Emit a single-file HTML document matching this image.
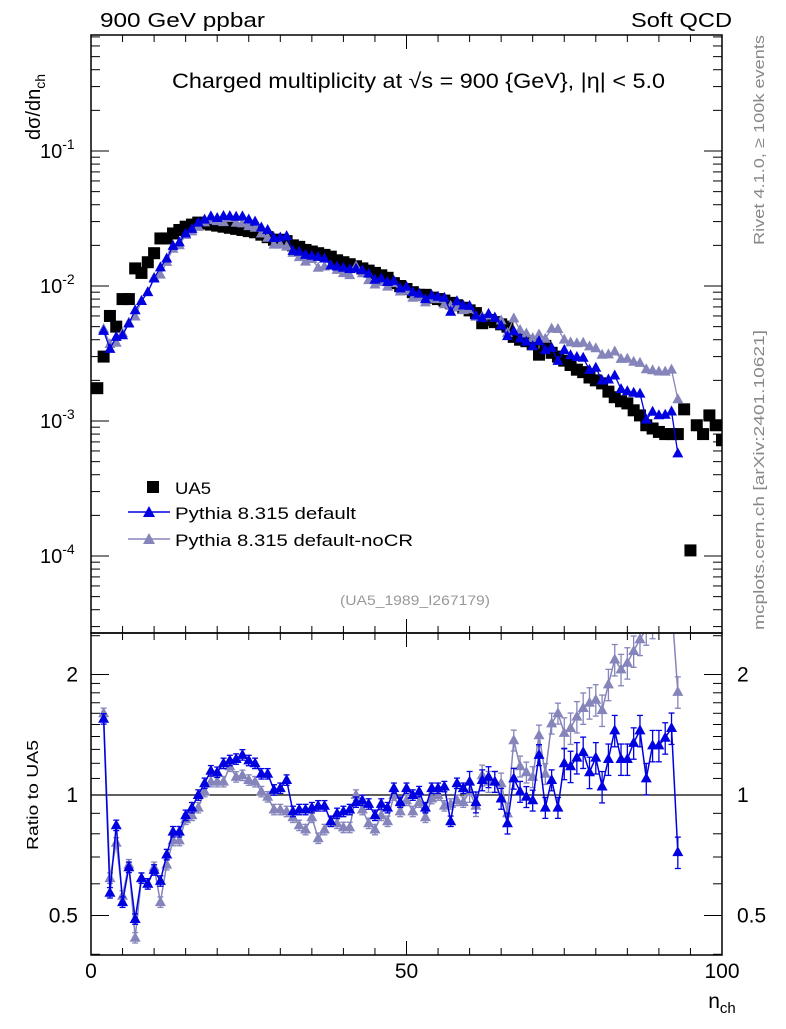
<!DOCTYPE html>
<html><head><meta charset="utf-8">
<style>
body{margin:0;background:#fff;}
svg{font-family:"Liberation Sans","DejaVu Sans",sans-serif;}
</style></head>
<body>
<svg id="chart" width="786" height="1024" viewBox="0 0 786 1024" xmlns="http://www.w3.org/2000/svg">
<defs>
<clipPath id="clipMain"><rect x="91" y="35" width="631" height="598"/></clipPath>
<clipPath id="clipRatio"><rect x="91" y="634" width="631" height="321"/></clipPath>
</defs>
<text x="100" y="27" font-size="20" textLength="165" lengthAdjust="spacingAndGlyphs">900 GeV ppbar</text>
<text x="631" y="27" font-size="20" textLength="101" lengthAdjust="spacingAndGlyphs">Soft QCD</text>
<text x="172" y="88" font-size="21" textLength="493" lengthAdjust="spacingAndGlyphs">Charged multiplicity at √s = 900 {GeV}, |η| &lt; 5.0</text>
<text transform="translate(40,140) rotate(-90)" font-size="20">dσ/dn<tspan font-size="14" dy="5">ch</tspan></text>
<text transform="translate(764,245) rotate(-90)" font-size="15" fill="#888" textLength="210" lengthAdjust="spacingAndGlyphs">Rivet 4.1.0, ≥ 100k events</text>
<text transform="translate(764,630) rotate(-90)" font-size="15" fill="#888" textLength="300" lengthAdjust="spacingAndGlyphs">mcplots.cern.ch [arXiv:2401.10621]</text>
<text x="340" y="605" font-size="14" fill="#999" textLength="150" lengthAdjust="spacingAndGlyphs">(UA5_1989_I267179)</text>
<text transform="translate(38,850) rotate(-90)" font-size="16" textLength="110" lengthAdjust="spacingAndGlyphs">Ratio to UA5</text>
<text x="722" y="1008" font-size="21" text-anchor="middle">n<tspan font-size="15" dy="5">ch</tspan></text>
<g id="axes"></g>
<g id="marks"></g>
<g id="legend">
  <rect x="147" y="481" width="12" height="12" fill="#000"/>
  <text x="175" y="494" font-size="17" textLength="36" lengthAdjust="spacingAndGlyphs">UA5</text>
  <line x1="128" y1="512" x2="170" y2="512" stroke="#0000e0" stroke-width="1.5"/>
  <polygon points="149,506 155,517 143,517" fill="#0000e0"/>
  <text x="175" y="519" font-size="17" textLength="181" lengthAdjust="spacingAndGlyphs">Pythia 8.315 default</text>
  <line x1="128" y1="539" x2="170" y2="539" stroke="#8585bb" stroke-width="1.5"/>
  <polygon points="149,533 155,544 143,544" fill="#8585bb"/>
  <text x="175" y="546" font-size="17" textLength="238" lengthAdjust="spacingAndGlyphs">Pythia 8.315 default-noCR</text>
</g>
</svg>
<script>
const ua5N = [1,2,3,4,5,6,7,8,9,10,11,12,13,14,15,16,17,18,19,20,21,22,23,24,25,26,27,28,29,30,31,32,33,34,35,36,37,38,39,40,41,42,43,44,45,46,47,48,49,50,51,52,53,54,55,56,57,58,59,60,61,62,63,64,65,66,67,68,69,70,71,72,73,74,75,76,77,78,79,80,81,82,83,84,85,86,87,88,89,90,91,92,93,94,95,96,97,98,99,100,101];
const ua5Val = [1.75e-3,3.0e-3,6.0e-3,5.0e-3,8.0e-3,8.0e-3,1.35e-2,1.25e-2,1.5e-2,1.75e-2,2.25e-2,2.25e-2,2.45e-2,2.6e-2,2.75e-2,2.85e-2,2.95e-2,2.9e-2,2.85e-2,2.8e-2,2.75e-2,2.7e-2,2.65e-2,2.6e-2,2.55e-2,2.5e-2,2.4e-2,2.3e-2,2.2e-2,2.2e-2,2.15e-2,2.0e-2,1.95e-2,1.85e-2,1.8e-2,1.75e-2,1.7e-2,1.65e-2,1.55e-2,1.5e-2,1.45e-2,1.4e-2,1.35e-2,1.3e-2,1.25e-2,1.2e-2,1.15e-2,1.05e-2,1.0e-2,9.5e-3,9.0e-3,8.6e-3,8.6e-3,8.2e-3,8.0e-3,7.8e-3,7.5e-3,7.2e-3,6.9e-3,6.6e-3,6.3e-3,5.3e-3,5.6e-3,5.4e-3,5.2e-3,5.0e-3,4.2e-3,4.0e-3,3.9e-3,3.7e-3,3.1e-3,3.6e-3,3.2e-3,3.0e-3,2.8e-3,2.6e-3,2.4e-3,2.3e-3,2.1e-3,2.0e-3,1.9e-3,1.65e-3,1.5e-3,1.4e-3,1.35e-3,1.2e-3,1.1e-3,9.3e-4,8.8e-4,8.3e-4,8.0e-4,8.0e-4,8.0e-4,1.22e-3,1.1e-4,9.3e-4,8.0e-4,1.1e-3,9.3e-4,7.2e-4,8.0e-4];
const simN = [2,3,4,5,6,7,8,9,10,11,12,13,14,15,16,17,18,19,20,21,22,23,24,25,26,27,28,29,30,31,32,33,34,35,36,37,38,39,40,41,42,43,44,45,46,47,48,49,50,51,52,53,54,55,56,57,58,59,60,61,62,63,64,65,66,67,68,69,70,71,72,73,74,75,76,77,78,79,80,81,82,83,84,85,86,87,88,89,90,91,92,93];
const ratioDefault = [1.55,0.57,0.84,0.54,0.66,0.49,0.62,0.60,0.65,0.61,0.71,0.81,0.81,0.89,0.93,1.0,1.07,1.15,1.14,1.2,1.22,1.23,1.26,1.22,1.2,1.13,1.13,1.03,1.04,1.09,0.91,0.92,0.92,0.93,0.94,0.94,0.86,0.9,0.91,0.92,0.96,0.97,0.95,0.89,0.95,0.93,1.04,0.96,1.04,1.0,1.02,0.93,1.04,1.04,1.05,0.86,1.07,1.04,1.08,0.96,1.09,1.11,1.08,0.98,0.85,1.1,1.02,0.99,0.97,1.26,0.93,1.09,0.93,1.2,1.18,1.24,1.28,1.14,1.24,1.05,1.23,1.45,1.23,1.23,1.35,1.45,1.1,1.33,1.33,1.39,1.47,0.72];
const ratioNoCR = [1.6,0.62,0.76,0.56,0.67,0.44,0.62,0.60,0.66,0.54,0.67,0.77,0.77,0.87,0.89,0.93,1.02,1.08,1.08,1.08,1.18,1.11,1.12,1.09,1.08,1.02,0.99,0.92,0.92,0.91,0.88,0.84,0.82,0.88,0.78,0.82,0.86,0.85,0.83,0.83,1.0,0.92,0.85,0.82,0.89,0.86,1.0,0.91,0.97,0.91,0.96,0.88,0.98,1.0,0.94,0.95,0.97,0.96,1.02,0.94,1.12,1.08,1.08,1.07,0.9,1.37,1.18,1.14,1.11,1.41,1.13,1.51,1.6,1.43,1.47,1.57,1.65,1.7,1.73,1.63,1.89,2.18,2.06,2.14,2.29,2.45,2.6,2.7,2.8,2.9,3.0,1.81];
const xTickLabels = ["0","50","100"];
const mainTickLabels = ["-1","-2","-3","-4"];
const ratioTickLabels = ["2","1","0.5"];

const SVGNS="http://www.w3.org/2000/svg";
const L=91,R=722,MT=35,MB=633,RT=634,RB=955;
const xs=n=>L+n*6.31;
const ym=v=>286-135*Math.log10(v/0.01);
const yr=r=>795-120.5*Math.log2(r);
function mk(tag,attrs,parent){const e=document.createElementNS(SVGNS,tag);for(const k in attrs)e.setAttribute(k,attrs[k]);parent.appendChild(e);return e;}
const axes=document.getElementById('axes'), marks=document.getElementById('marks');

let f1=mk('rect',{x:L,y:MT,width:R-L,height:MB-MT,fill:'none',stroke:'#000','stroke-width':1.5},axes);


let f2=mk('rect',{x:L,y:MB,width:R-L,height:RB-MB,fill:'none',stroke:'#000','stroke-width':1.5},axes);


let one=mk('line',{x1:L,x2:R,y1:yr(1),y2:yr(1),stroke:'#000','stroke-width':1.2},axes);



for(let n=0;n<=100;n+=5){
  const len=(n%50===0)?14:7;
  for(const [y0,d] of [[MT,1],[MB,-1],[MB,1],[RB,-1]]){
    mk('line',{x1:xs(n),x2:xs(n),y1:y0,y2:y0+d*len,stroke:'#000','stroke-width':1},axes);
  }
}
xTickLabels.forEach((t,i)=>{
  const tx=mk('text',{x:xs(i*50),y:978,'font-size':21,'text-anchor':'middle'},axes);
  tx.textContent=t;
  
  
});
for(let e=-5;e<=-1;e++){
  for(let m=1;m<10;m++){
    const v=m*Math.pow(10,e);const y=ym(v);
    if(y<MT||y>MB)continue;
    const len=m===1?18:9;
    mk('line',{x1:L,x2:L+len,y1:y,y2:y,stroke:'#000'},axes);
    mk('line',{x1:R,x2:R-len,y1:y,y2:y,stroke:'#000'},axes);
  }
}
mainTickLabels.forEach((t,i)=>{
  const y=ym(Math.pow(10,-1-i));
  const tx=mk('text',{x:40,y:y+7,'font-size':20},axes);
  tx.textContent='10';
  const sp=mk('tspan',{'font-size':14,dy:-9},tx);sp.textContent=t;
  
  
});
[0.4,0.5,0.6,0.7,0.8,0.9,1,1.1,1.2,1.3,1.4,1.5,1.6,1.7,1.8,1.9,2,2.5].forEach(r=>{
  const y=yr(r); if(y<MB||y>RB)return;
  const len=(r===0.5||r===1||r===2)?18:9;
  mk('line',{x1:L,x2:L+len,y1:y,y2:y,stroke:'#000'},axes);
  mk('line',{x1:R,x2:R-len,y1:y,y2:y,stroke:'#000'},axes);
});
ratioTickLabels.forEach(t=>{
  const y=yr(parseFloat(t))+7;
  const a=mk('text',{x:78,y:y,'font-size':21,'text-anchor':'end'},axes);a.textContent=t;
  
  
  const b=mk('text',{x:737,y:y,'font-size':21},axes);b.textContent=t;
  
  
});

function tri(x,y,col,parent,name){
  const p=mk('polygon',{points:`${x},${y-6} ${x+5.5},${y+4} ${x-5.5},${y+4}`,fill:col},parent);
  
  
}
const gMain=mk('g',{'clip-path':'url(#clipMain)'},marks);


const gRatio=mk('g',{'clip-path':'url(#clipRatio)'},marks);



function ua5At(n){return ua5Val[ua5N.indexOf(n)];}
const series=[[ratioNoCR,'#8585bb','nocr'],[ratioDefault,'#0000e0','default']];
series.forEach(([arr,col,nm])=>{
  const pts=simN.map((n,i)=>[xs(n),ym(ua5At(n)*arr[i])]);
  const pl=mk('polyline',{points:pts.map(p=>p.join(',')).join(' '),fill:'none',stroke:col,'stroke-width':1.3},gMain);
  
  
  pts.forEach((p,i)=>tri(p[0],p[1],col,gMain,'main-point-'+nm));
  const rp=simN.map((n,i)=>[xs(n),yr(arr[i])]);
  const rl=mk('polyline',{points:rp.map(p=>p.join(',')).join(' '),fill:'none',stroke:col,'stroke-width':1.5},gRatio);
  
  
  rp.forEach((p,i)=>{
    const n=simN[i];const e=n<60?0.03:(n<75?0.06:0.09);
    const y1=yr(arr[i]*(1+e)),y2=yr(arr[i]*(1-e));
    mk('line',{x1:p[0],x2:p[0],y1:y1,y2:y2,stroke:col,'stroke-width':1.3},gRatio);
    mk('line',{x1:p[0]-3,x2:p[0]+3,y1:y1,y2:y1,stroke:col,'stroke-width':1.3},gRatio);
    mk('line',{x1:p[0]-3,x2:p[0]+3,y1:y2,y2:y2,stroke:col,'stroke-width':1.3},gRatio);
    tri(p[0],p[1],col,gRatio,'ratio-point-'+nm);
  });
});
ua5N.forEach((n,i)=>{
  const r=mk('rect',{x:xs(n)-6,y:ym(ua5Val[i])-6,width:12,height:12,fill:'#000'},gMain);
  
  
  gMain.insertBefore(r,gMain.firstChild);
});
</script>
</body></html>
